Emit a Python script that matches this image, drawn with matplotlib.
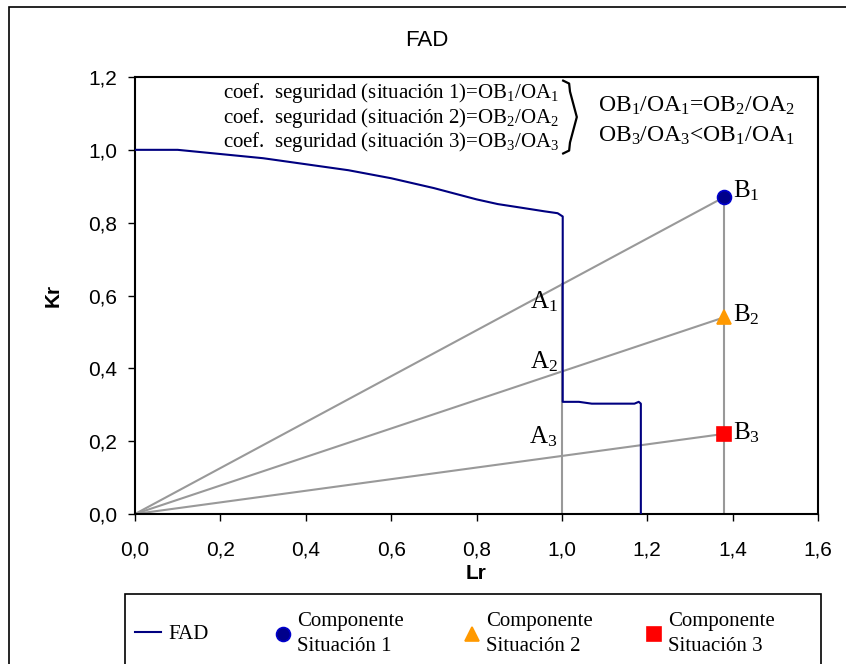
import numpy as np
import matplotlib
matplotlib.use("Agg")
import matplotlib.pyplot as plt
from matplotlib.patches import Rectangle
from matplotlib.ticker import FuncFormatter

plt.rcParams['font.family'] = ['Liberation Sans', 'DejaVu Sans']
plt.rcParams['mathtext.fontset'] = 'custom'
plt.rcParams['mathtext.rm'] = 'Liberation Serif'
plt.rcParams['mathtext.it'] = 'Liberation Serif:italic'

# --- FAD curve ---
lr_fad = [0.0, 0.1, 0.3, 0.5, 0.6, 0.7, 0.8, 0.85, 0.9, 0.96, 0.99, 1.002,
          1.002, 1.04, 1.07, 1.17, 1.18, 1.185, 1.185]
kr_fad = [1.0, 1.0, 0.977, 0.944, 0.922, 0.895, 0.864, 0.851, 0.842, 0.831, 0.826, 0.817,
          0.308, 0.308, 0.303, 0.303, 0.308, 0.303, 0.0]

# component situations (points B1, B2, B3)
lr_comp = 1.38
kr_comp = [0.87, 0.54, 0.22]
comp_labels = ["Componente\nSituación 1", "Componente\nSituación 2", "Componente\nSituación 3"]
comp_markers = ['o', '^', 's']
comp_colors = ['#00008B', '#FF9900', '#FF0000']
comp_edges = ['#0000CC', '#FF9900', '#FF0000']

xticks = [0.0, 0.2, 0.4, 0.6, 0.8, 1.0, 1.2, 1.4, 1.6]
yticks = [0.0, 0.2, 0.4, 0.6, 0.8, 1.0, 1.2]

fig = plt.figure(figsize=(8.46, 6.64), dpi=100)
ax = fig.add_axes([135/846, 1 - 514/664, (818 - 135)/846, (514 - 77)/664])

grey = '#999999'
# lines from origin through A_i to B_i
for k in kr_comp:
    ax.plot([0, lr_comp], [0, k], color=grey, lw=1.5, zorder=2)
# verticals at Lr = 1 and at the component
ax.plot([1.0, 1.0], [0, kr_comp[0] / lr_comp], color=grey, lw=1.5, zorder=2)
ax.plot([lr_comp, lr_comp], [0, kr_comp[0]], color=grey, lw=1.5, zorder=2)

fad_line, = ax.plot(lr_fad, kr_fad, color='#000080', lw=1.5, zorder=3, label='FAD')

handles = [fad_line]
for k, m, c, e, lab in zip(kr_comp, comp_markers, comp_colors, comp_edges, comp_labels):
    h, = ax.plot([lr_comp], [k], linestyle='none', marker=m, markersize=10,
                 markerfacecolor=c, markeredgecolor=e, markeredgewidth=1.2, zorder=4, label=lab)
    handles.append(h)

ax.set_xlim(0, 1.6)
ax.set_ylim(0, 1.2)
ax.set_xticks(xticks)
ax.set_yticks(yticks)
fmt = FuncFormatter(lambda v, p: f"{v:.1f}".replace('.', ','))
ax.xaxis.set_major_formatter(fmt)
ax.yaxis.set_major_formatter(fmt)
ax.tick_params(direction='out', length=5, width=1, labelsize=15)
ax.tick_params(axis='x', pad=14)
ax.tick_params(axis='y', pad=8)
for s in ax.spines.values():
    s.set_linewidth(1.5)

ax.set_xlabel('Lr', fontsize=15, fontweight='bold', labelpad=3)
ax.set_ylabel('Kr', fontsize=15, fontweight='bold', labelpad=18)
fig.text(427/846, 1 - 40/664, 'FAD', ha='center', va='center', fontsize=16)

serif = 'Liberation Serif'
# A / B labels
a_y = [0.584, 0.418, 0.212]
b_y = [0.889, 0.548, 0.223]
for i in range(3):
    ax.text(0.99, a_y[i], rf'$\mathrm{{A_{i+1}}}$', ha='right', va='center', fontsize=18, zorder=5)
    ax.text(1.40, b_y[i], rf'$\mathrm{{B_{i+1}}}$', ha='left', va='center', fontsize=18, zorder=5)

# safety factor notes
note_y = [1.156, 1.087, 1.021]
for i in range(3):
    n = i + 1
    ax.text(0.995, note_y[i],
            rf'coef.  seguridad (situación {n})=OB$_{n}$/OA$_{n}$',
            family=serif, ha='right', va='center', fontsize=15)
ax.text(1.085, 1.12, r'OB$_1$/OA$_1$=OB$_2$/OA$_2$', family=serif,
        ha='left', va='center', fontsize=17)
ax.text(1.085, 1.038, r'OB$_3$/OA$_3$<OB$_1$/OA$_1$', family=serif,
        ha='left', va='center', fontsize=17)

# brace
bx0, bx1 = 1.003, 1.035
yt, yb = 1.19, 0.99
ym = (yt + yb) / 2
bx = [bx0, bx0 + 0.014, bx0 + 0.016, bx1, bx0 + 0.016, bx0 + 0.014, bx0]
by = [yt, yt - 0.008, yt - 0.03, ym, yb + 0.03, yb + 0.008, yb]
ax.plot(bx, by, color='black', lw=1.6, clip_on=False, zorder=5)

# legend: one entry per column, placed like the original
leg_x = [135, 274.7, 463.7, 645.7]
leg_len = [1.25, 0.8, 0.8, 0.8]
leg_pad = [0.33, 0.27, 0.27, 0.27]
for h, lab, x0, hl, hp in zip(handles, ['FAD'] + comp_labels, leg_x, leg_len, leg_pad):
    leg = fig.legend([h], [lab], loc='center left',
                     bbox_to_anchor=(x0/846, 1 - 634/664), frameon=False,
                     prop={'family': serif, 'size': 15},
                     handlelength=hl, handletextpad=hp,
                     borderpad=0, borderaxespad=0)
    for t in leg.get_texts():
        t.set_linespacing(1.45)
fig.patches.append(Rectangle((125/846, -0.1), (821 - 125)/846, 0.1 + 1 - 594/664,
                             transform=fig.transFigure, fill=False, lw=1.2, edgecolor='black'))

# outer frame
fig.patches.append(Rectangle((9/846, -0.1), 1.2, 1 - 7/664 + 0.1, transform=fig.transFigure,
                             fill=False, lw=1.2, edgecolor='black'))

fig.savefig('out.png', dpi=100)
